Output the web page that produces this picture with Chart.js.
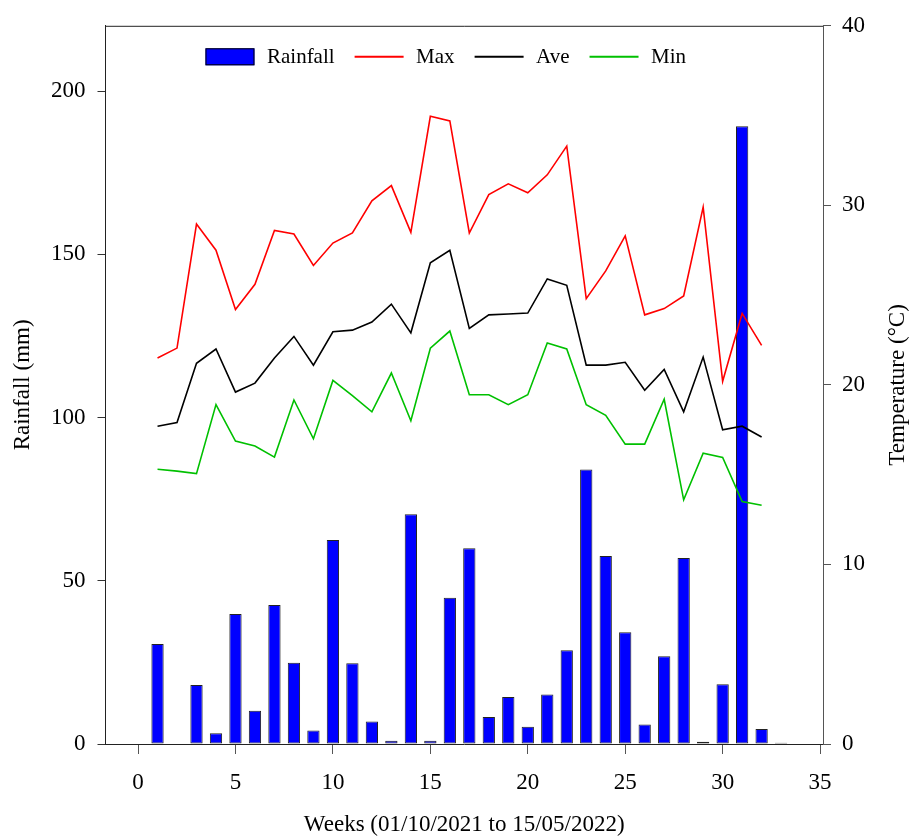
<!DOCTYPE html>
<html>
<head>
<meta charset="utf-8">
<script src="https://cdn.jsdelivr.net/npm/chart.js@4.4.0/dist/chart.umd.min.js"></script>
<style>
  html, body { margin: 0; padding: 0; background: #fff; }
  #wrap { width: 912px; height: 836px; }
</style>
</head>
<body>
<div id="wrap"><canvas id="chart"></canvas></div>
<script>
// Weeks (01/10/2021 to 15/05/2022)
const weeks = [1, 2, 3, 4, 5, 6, 7, 8, 9, 10, 11, 12, 13, 14, 15, 16, 17, 18, 19, 20,
  21, 22, 23, 24, 25, 26, 27, 28, 29, 30, 31, 32, 33];

// weekly rainfall (mm), left axis
const rainfall = [30.6, 0, 18.1, 3.3, 39.8, 10.2, 42.6, 24.9, 4.1, 62.5, 24.7, 6.9, 1.0,
  70.4, 1.0, 44.8, 60.0, 8.3, 14.4, 5.3, 15.2, 28.7, 84.1, 57.6, 34.2, 6.0, 26.9, 57.0,
  0.7, 18.3, 189.2, 4.6, 0.4];

// temperatures (°C), right axis, weeks 1-32
const tMax = [21.5, 22.05, 28.96, 27.5, 24.2, 25.6, 28.6, 28.4, 26.65, 27.9, 28.46, 30.25,
  31.1, 28.5, 34.96, 34.7, 28.46, 30.6, 31.2, 30.7, 31.7, 33.3, 24.8, 26.35, 28.3, 23.9,
  24.25, 24.95, 29.9, 20.2, 23.98, 22.2];
const tAve = [17.7, 17.9, 21.2, 22.0, 19.6, 20.1, 21.5, 22.7, 21.1, 22.96, 23.05, 23.5,
  24.5, 22.9, 26.8, 27.5, 23.15, 23.9, 23.95, 24.0, 25.9, 25.55, 21.1, 21.1, 21.26, 19.7,
  20.86, 18.5, 21.55, 17.5, 17.7, 17.1];
const tMin = [15.3, 15.2, 15.06, 18.9, 16.87, 16.6, 15.98, 19.16, 17.0, 20.25, 19.4, 18.5,
  20.66, 18.0, 22.04, 23.0, 19.45, 19.45, 18.9, 19.45, 22.33, 22.0, 18.9, 18.3, 16.7, 16.7,
  19.2, 13.6, 16.2, 15.96, 13.5, 13.3];

const toPoints = values => values.map((v, i) => ({ x: weeks[i], y: v }));

const serif = 'Liberation Serif, Times New Roman, serif';
const axisColor = '#222';

// top edge of the frame
const frameTop = {
  id: 'frameTop',
  afterDraw(chart) {
    const { ctx, chartArea } = chart;
    ctx.save();
    ctx.strokeStyle = axisColor;
    ctx.lineWidth = 1;
    ctx.beginPath();
    ctx.moveTo(chartArea.left, chartArea.top + 0.5);
    ctx.lineTo(chartArea.right, chartArea.top + 0.5);
    ctx.stroke();
    ctx.restore();
  }
};

// one-row legend inside the plot, swatches read from the datasets
const insideLegend = {
  id: 'insideLegend',
  afterDraw(chart) {
    const { ctx, chartArea } = chart;
    const sw = 49, swH = 17, gapText = 12.5, gapItem = 20;
    ctx.save();
    ctx.font = '21px ' + serif;
    ctx.textBaseline = 'middle';
    const items = chart.data.datasets.map(ds => ({ ds, w: ctx.measureText(ds.label).width }));
    const total = items.reduce((s, it) => s + sw + gapText + it.w, 0) + gapItem * (items.length - 1);
    let x = (chartArea.left + chartArea.right) / 2 - 18.5 - total / 2;
    const y = chartArea.top + 31;
    items.forEach(({ ds, w }) => {
      if (ds.type === 'bar') {
        ctx.fillStyle = ds.backgroundColor;
        ctx.fillRect(x, y - swH / 2, sw, swH);
        ctx.strokeStyle = '#000';
        ctx.lineWidth = 1;
        ctx.strokeRect(x + 0.5, y - swH / 2 + 0.5, sw - 1, swH - 1);
      } else {
        ctx.strokeStyle = ds.borderColor;
        ctx.lineWidth = 2;
        ctx.beginPath();
        ctx.moveTo(x, y);
        ctx.lineTo(x + sw, y);
        ctx.stroke();
      }
      ctx.fillStyle = '#000';
      ctx.fillText(ds.label, x + sw + gapText, y + 1);
      x += sw + gapText + w + gapItem;
    });
    ctx.restore();
  }
};

// right axis title, reading bottom to top like the left one
const rightTitle = {
  id: 'rightTitle',
  afterDraw(chart) {
    const { ctx, chartArea } = chart;
    ctx.save();
    ctx.translate(898, (chartArea.top + chartArea.bottom) / 2);
    ctx.rotate(-Math.PI / 2);
    ctx.font = '23px ' + serif;
    ctx.fillStyle = '#000';
    ctx.textAlign = 'center';
    ctx.textBaseline = 'middle';
    ctx.fillText('Temperature (°C)', 0, 0);
    ctx.restore();
  }
};

const ctx = document.getElementById('chart').getContext('2d');
new Chart(ctx, {
  data: {
    datasets: [
      {
        type: 'bar',
        label: 'Rainfall',
        data: toPoints(rainfall),
        yAxisID: 'y',
        backgroundColor: '#0000ff',
        borderColor: '#222',
        borderWidth: 1,
        borderSkipped: false,
        barPercentage: 0.63,
        categoryPercentage: 1,
        order: 1
      },
      {
        type: 'line',
        label: 'Max',
        data: toPoints(tMax),
        yAxisID: 'y1',
        borderColor: '#ff0000',
        borderWidth: 1.6,
        pointRadius: 0,
        tension: 0,
        order: 0
      },
      {
        type: 'line',
        label: 'Ave',
        data: toPoints(tAve),
        yAxisID: 'y1',
        borderColor: '#000000',
        borderWidth: 1.6,
        pointRadius: 0,
        tension: 0,
        order: 0
      },
      {
        type: 'line',
        label: 'Min',
        data: toPoints(tMin),
        yAxisID: 'y1',
        borderColor: '#00c000',
        borderWidth: 1.6,
        pointRadius: 0,
        tension: 0,
        order: 0
      }
    ]
  },
  options: {
    responsive: true,
    maintainAspectRatio: false,
    animation: false,
    layout: { padding: { top: 21, left: 0, right: 0, bottom: 0 } },
    plugins: {
      tooltip: { enabled: false },
      legend: { display: false }
    },
    scales: {
      x: {
        type: 'linear',
        position: 'bottom',
        min: -1.67,
        max: 35.15,
        offset: false,
        afterFit(scale) { scale.height = 92; },
        ticks: {
          stepSize: 5,
          includeBounds: false,
          padding: 15,
          color: '#000',
          font: { family: serif, size: 23 },
          maxRotation: 0
        },
        grid: { offset: false, drawOnChartArea: false, tickLength: 10, color: '#555' },
        border: { color: axisColor, width: 1 },
        title: {
          display: true,
          text: 'Weeks (01/10/2021 to 15/05/2022)',
          color: '#000',
          font: { family: serif, size: 23, lineHeight: 1.0 },
          padding: { top: 0, bottom: 0 }
        }
      },
      y: {
        type: 'linear',
        position: 'left',
        min: 0,
        max: 220,
        afterFit(scale) { scale.width = 105.5; },
        ticks: {
          stepSize: 50,
          includeBounds: false,
          padding: 12,
          color: '#000',
          font: { family: serif, size: 23 }
        },
        grid: { drawOnChartArea: false, tickLength: 8, color: '#333' },
        border: { color: axisColor, width: 1 },
        title: {
          display: true,
          text: 'Rainfall (mm)',
          color: '#000',
          font: { family: serif, size: 23 },
          padding: { top: 9, bottom: 0 }
        }
      },
      y1: {
        type: 'linear',
        position: 'right',
        min: 0,
        max: 40,
        afterFit(scale) { scale.width = 89; },
        ticks: {
          stepSize: 10,
          includeBounds: false,
          padding: 11,
          color: '#000',
          font: { family: serif, size: 23 }
        },
        grid: { drawOnChartArea: false, tickLength: 8, color: '#555' },
        border: { color: '#555', width: 1 },
        title: { display: false }
      }
    }
  },
  plugins: [frameTop, insideLegend, rightTitle]
});
</script>
</body>
</html>
